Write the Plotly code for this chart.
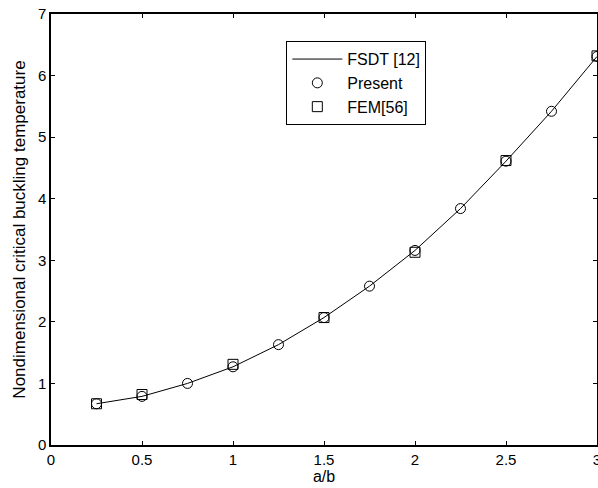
import plotly.graph_objects as go

ratio_ab = [0.25, 0.5, 0.75, 1.0, 1.25, 1.5, 1.75, 2.0, 2.25, 2.5, 2.75, 3.0]
fsdt = [0.67, 0.79, 1.00, 1.27, 1.63, 2.07, 2.58, 3.16, 3.84, 4.61, 5.42, 6.31]
present = [0.67, 0.79, 1.00, 1.27, 1.63, 2.07, 2.58, 3.16, 3.84, 4.61, 5.42, 6.31]
fem_x = [0.25, 0.5, 1.0, 1.5, 2.0, 2.5, 3.0]
fem = [0.67, 0.82, 1.31, 2.07, 3.13, 4.62, 6.32]

x_ticks = [0, 0.5, 1, 1.5, 2, 2.5, 3]
x_tick_labels = ["0", "0.5", "1", "1.5", "2", "2.5", "3"]
y_ticks = [0, 1, 2, 3, 4, 5, 6, 7]

FONT = "Liberation Sans, Arial, sans-serif"

fig = go.Figure()
fig.add_trace(go.Scatter(x=ratio_ab, y=fsdt, mode="lines", name="FSDT [12]",
                         legendgroup="a", cliponaxis=False,
                         line=dict(color="black", width=1)))
fig.add_trace(go.Scatter(x=ratio_ab, y=present, mode="markers", name="Present",
                         legendgroup="b", cliponaxis=False,
                         marker=dict(symbol="circle-open", size=10, color="black",
                                     line=dict(width=1, color="black"))))
fig.add_trace(go.Scatter(x=fem_x, y=fem, mode="markers", name="FEM[56]",
                         legendgroup="c", cliponaxis=False,
                         marker=dict(symbol="square-open", size=10, color="black",
                                     line=dict(width=1, color="black"))))

axis_common = dict(showgrid=False, zeroline=False, showline=True, linecolor="black",
                   linewidth=1.5, mirror="ticks", ticks="inside", ticklen=4,
                   tickcolor="black", automargin=False, ticklabeloverflow="allow",
                   tickfont=dict(family=FONT, size=15, color="black"))

fig.update_xaxes(range=[0, 3], tickvals=x_ticks, ticktext=x_tick_labels,
                 title=dict(text="a/b", font=dict(family=FONT, size=16, color="black"),
                            standoff=3),
                 **axis_common)
fig.update_yaxes(range=[0, 7], tickvals=y_ticks,
                 title=dict(text="Nondimensional critical buckling temperature",
                            font=dict(family=FONT, size=17, color="black"),
                            standoff=8),
                 **axis_common)

fig.update_layout(
    width=598, height=488,
    margin=dict(l=51, r=1, t=14, b=43),
    plot_bgcolor="white", paper_bgcolor="white",
    showlegend=True,
    legend=dict(x=0.431, y=0.937, xanchor="left", yanchor="top",
                bordercolor="black", borderwidth=1, bgcolor="white",
                font=dict(family=FONT, size=16, color="black"),
                tracegroupgap=0, itemwidth=50),
)

fig.write_html("out.html",
               config={"displayModeBar": False},
               post_script="document.body.style.margin='0';"
                           "document.body.style.overflow='hidden';")
